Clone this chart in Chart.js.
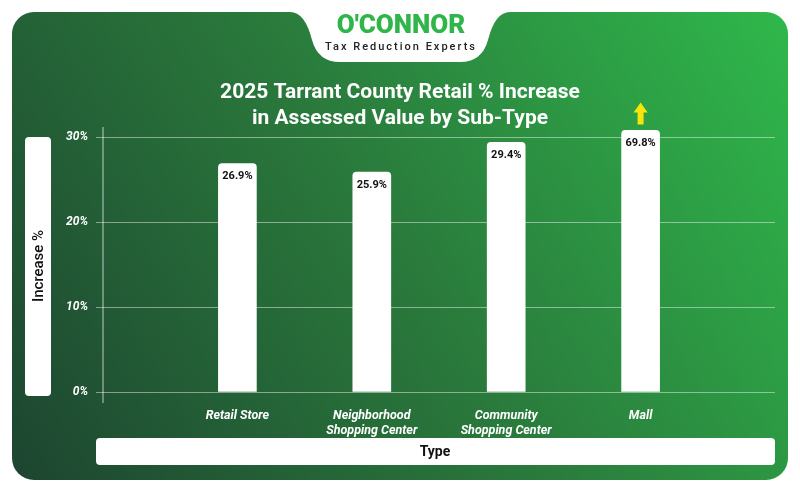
<!DOCTYPE html>
<html>
<head>
<meta charset="utf-8">
<script src="https://cdn.jsdelivr.net/npm/chart.js@4"></script>
<style>
  html, body { margin: 0; padding: 0; background: #fff; }
  #wrap { width: 800px; height: 492px; }
</style>
</head>
<body>
<div id="wrap"><canvas id="retailChart" width="800" height="492"></canvas></div>
<script>
// chart data
const categories = [['Retail Store'], ['Neighborhood', 'Shopping Center'], ['Community', 'Shopping Center'], ['Mall']];
const increases = [26.9, 25.9, 29.4, 69.8];
const yTicks = [0, 10, 20, 30];
const barCap = 30.8; // mall bar is cut off at the top of the axis

/* -----------------------------
   Background card, logo, boxes
------------------------------ */
function roundRect(ctx, x, y, w, h, r) {
  ctx.beginPath();
  ctx.roundRect(x, y, w, h, r);
}

const decor = {
  id: 'decor',
  beforeDraw(chart) {
    const ctx = chart.ctx;
    ctx.save();
    const g = ctx.createLinearGradient(12, 480, 788, 12);
    g.addColorStop(0, '#1d4530');
    g.addColorStop(0.5, '#2a7a3c');
    g.addColorStop(1, '#2fb84b');
    roundRect(ctx, 12, 12, 776, 468, 22);
    ctx.fillStyle = g;
    ctx.fill();

    // logo tab
    ctx.fillStyle = '#fff';
    ctx.beginPath();
    ctx.moveTo(290, 12);
    ctx.quadraticCurveTo(305, 12, 312, 40);
    ctx.quadraticCurveTo(318, 62, 340, 62);
    ctx.lineTo(460, 62);
    ctx.quadraticCurveTo(482, 62, 488, 40);
    ctx.quadraticCurveTo(495, 12, 510, 12);
    ctx.closePath();
    ctx.fill();
    ctx.textAlign = 'center';
    ctx.textBaseline = 'middle';
    ctx.fillStyle = '#2fb54a';
    ctx.font = '900 26px Roboto, sans-serif';
    ctx.fillText("O'CONNOR", 401, 26);
    ctx.fillStyle = '#222';
    ctx.font = '500 11px Roboto, sans-serif';
    ctx.letterSpacing = '2px';
    ctx.fillText('Tax Reduction Experts', 401, 47);
    ctx.letterSpacing = '0px';

    // title
    ctx.fillStyle = '#fff';
    ctx.font = 'bold 21px Roboto, sans-serif';
    ctx.fillText('2025 Tarrant County Retail % Increase', 400, 93);
    ctx.fillText('in Assessed Value by Sub-Type', 400, 119);

    // y title box
    roundRect(ctx, 25, 137, 26, 259, 4);
    ctx.fill();
    ctx.save();
    ctx.translate(39, 266);
    ctx.rotate(-Math.PI / 2);
    ctx.fillStyle = '#111';
    ctx.font = '500 15px Roboto, sans-serif';
    ctx.fillText('Increase %', 0, 0);
    ctx.restore();

    // x title box
    ctx.fillStyle = '#fff';
    roundRect(ctx, 96, 438, 679, 27, 4);
    ctx.fill();
    ctx.fillStyle = '#111';
    ctx.font = 'bold 14px Roboto, sans-serif';
    ctx.fillText('Type', 435, 452);
    ctx.restore();
  },
  afterDatasetsDraw(chart) {
    const ctx = chart.ctx;
    const meta = chart.getDatasetMeta(0);
    ctx.save();
    ctx.textAlign = 'center';
    ctx.textBaseline = 'middle';
    ctx.fillStyle = '#111';
    ctx.font = 'bold 11px Roboto, sans-serif';
    meta.data.forEach((bar, i) => {
      ctx.fillText(increases[i].toFixed(1) + '%', bar.x, bar.y + 13);
    });
    // arrow above capped bar
    const last = meta.data[meta.data.length - 1];
    const ax = last.x, top = last.y - 28, bot = last.y - 6;
    ctx.fillStyle = '#f5e50a';
    ctx.beginPath();
    ctx.moveTo(ax, top);
    ctx.lineTo(ax + 7, top + 10);
    ctx.lineTo(ax + 3, top + 10);
    ctx.lineTo(ax + 3, bot);
    ctx.lineTo(ax - 3, bot);
    ctx.lineTo(ax - 3, top + 10);
    ctx.lineTo(ax - 7, top + 10);
    ctx.closePath();
    ctx.fill();
    // y axis line running past zero
    const a = chart.chartArea;
    ctx.strokeStyle = 'rgba(255,255,255,0.7)';
    ctx.lineWidth = 1;
    ctx.beginPath();
    ctx.moveTo(a.left, a.top);
    ctx.lineTo(a.left, a.bottom + 11);
    ctx.stroke();
    ctx.restore();
  }
};

/* -----------------------------
   Chart
------------------------------ */
const ctx = document.getElementById('retailChart').getContext('2d');
new Chart(ctx, {
  type: 'bar',
  data: {
    datasets: [{
      data: increases.map((v, i) => ({ x: i + 1, y: Math.min(v, barCap) })),
      backgroundColor: '#fff',
      borderRadius: { topLeft: 4, topRight: 4 },
      borderSkipped: 'bottom',
      barThickness: 38
    }]
  },
  options: {
    responsive: false,
    animation: false,
    layout: { padding: { left: 0, right: 25, top: 127, bottom: 0 } },
    plugins: { legend: { display: false }, tooltip: { enabled: false } },
    scales: {
      x: {
        type: 'linear',
        offset: false,
        min: 0,
        max: 5,
        afterFit(s) { s.height = 100; },
        afterBuildTicks(s) { s.ticks = [1, 2, 3, 4].map(v => ({ value: v })); },
        grid: { display: false, offset: false },
        border: { display: false },
        ticks: {
          color: '#fff',
          font: { family: 'Roboto', size: 12.5, weight: 'bold', style: 'italic' },
          padding: 8,
          maxRotation: 0,
          callback: v => categories[v - 1]
        }
      },
      y: {
        min: 0,
        max: 31.2,
        afterFit(s) { s.width = 103; },
        afterBuildTicks(s) { s.ticks = yTicks.map(v => ({ value: v })); },
        border: { display: false },
        grid: { color: 'rgba(255,255,255,0.45)', tickLength: 7 },
        ticks: {
          color: '#fff',
          font: { family: 'Roboto', size: 12, weight: 'bold', style: 'italic' },
          padding: 8,
          callback: v => v + '%'
        }
      }
    }
  },
  plugins: [decor]
});
</script>
</body>
</html>
